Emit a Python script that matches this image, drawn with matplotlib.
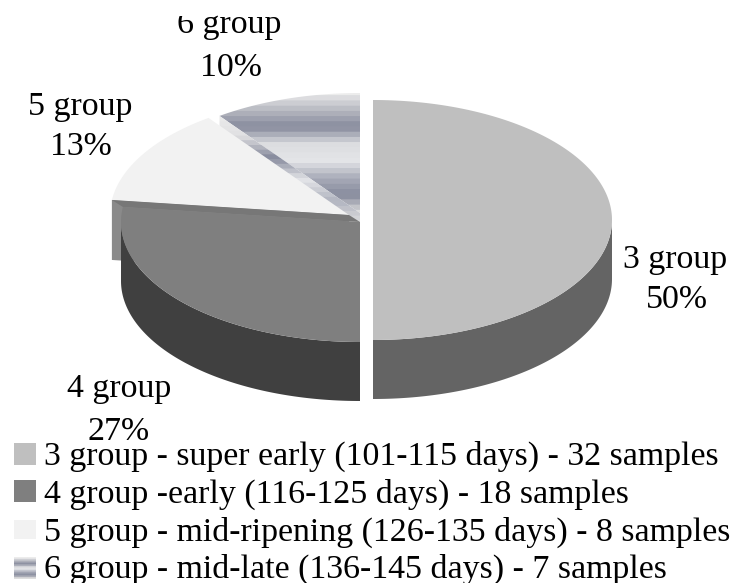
import numpy as np
from matplotlib import pyplot as plt
from matplotlib.patches import Polygon, Rectangle
from matplotlib.colors import LinearSegmentedColormap

plt.rcParams["font.family"] = ["Liberation Serif", "DejaVu Serif"]

groups = ["3 group", "4 group", "5 group", "6 group"]
percents = [50, 27, 13, 10]
legend_labels = [
    "3 group - super early (101-115 days) - 32 samples",
    "4 group -early (116-125 days) - 18 samples",
    "5 group - mid-ripening (126-135 days) - 8 samples",
    "6 group - mid-late (136-145 days) - 7 samples",
]
top_colors = ["#bfbfbf", "#7f7f7f", "#f2f2f2"]
wall_colors = ["#646464", "#404040"]

# grey-blue stripes of the last slice
stripe_colors = ["#ececec", "#b8bac2", "#868a9c", "#dcdde0", "#e4e5e8", "#a8abb8", "#868a9c", "#dedede"]
wall_stripes = ["#ececec", "#e0e0e2", "#868a9c", "#e4e5e8", "#b0b3bf", "#dedede"]
stripes = LinearSegmentedColormap.from_list("stripes", stripe_colors, N=24)
wall_map = LinearSegmentedColormap.from_list("wall", wall_stripes, N=24)

rx = 239
ry = 120
depth = 59


def arc(cx, cy, a0, a1):
    # angles in degrees, clockwise from the top of the ellipse
    t = np.radians(np.linspace(a0, a1, 200))
    return np.column_stack([cx + rx * np.sin(t), cy - ry * np.cos(t)])


def point(cx, cy, a):
    return arc(cx, cy, a, a)[0]


fig = plt.figure(figsize=(7.33, 5.83), dpi=100)
ax = fig.add_axes([0, 0, 1, 1])

edges = np.cumsum([0] + percents) * 3.6
centers = [(373, 220), (360, 222), (349, 215), (360, 213)]

# slice 6, top face and cut face with the stripes
c6 = centers[3]
top6 = np.vstack([[c6], arc(*c6, edges[3], edges[4])])
im = ax.imshow(np.linspace(0, 1, 120)[:, None], cmap=stripes, aspect="auto", extent=(200, 365, 215, 90), zorder=1)
im.set_clip_path(Polygon(top6, transform=ax.transData))
left6 = point(*c6, edges[3])
cut6 = np.array([c6, left6, left6 + [0, depth], np.array(c6) + [0, depth]])
im2 = ax.imshow(np.linspace(0, 1, 120)[:, None], cmap=wall_map, aspect="auto", extent=(200, 365, 225, 112), zorder=2)
im2.set_clip_path(Polygon(cut6, transform=ax.transData))

# slice 5
c5 = centers[2]
left5 = point(*c5, edges[2])
cut5 = np.array([c5, left5, left5 + [0, depth + 1], np.array(c5) + [0, depth + 1]])
ax.add_patch(Polygon(cut5, fc="#8a8a8a", ec="none", zorder=3))
ax.add_patch(Polygon(np.vstack([[c5], arc(*c5, edges[2], edges[3])]), fc=top_colors[2], ec="none", zorder=4))

# slice 4
c4 = centers[1]
low4 = arc(*c4, edges[1], 270)
ax.add_patch(Polygon(np.vstack([low4, (low4 + [0, depth])[::-1]]), fc=wall_colors[1], ec="none", zorder=5))
ax.add_patch(Polygon(np.array([c5, left5, point(*c4, edges[2]), c4]), fc="#777777", ec="none", zorder=5))
ax.add_patch(Polygon(np.vstack([[c4], arc(*c4, edges[1], edges[2])]), fc=top_colors[1], ec="none", zorder=6))

# slice 3
c3 = centers[0]
low3 = arc(*c3, 90, edges[1])
ax.add_patch(Polygon(np.vstack([low3, (low3 + [0, depth])[::-1]]), fc=wall_colors[0], ec="none", zorder=5))
ax.add_patch(Polygon(np.vstack([[c3], arc(*c3, edges[0], edges[1])]), fc=top_colors[0], ec="none", zorder=6))

# slice labels
fs = 24.4
name_pos = [(675.5, 268), (119, 397), (80, 115), (229, 33)]
pct_pos = [(677, 308), (119, 440), (81, 155), (231, 76)]
for name, pct, (x, y), (px, py) in zip(groups, percents, name_pos, pct_pos):
    ax.text(x, y, name, ha="center", va="baseline", fontsize=fs, zorder=8)
    ax.text(px, py, "%d%%" % pct, ha="center", va="baseline", fontsize=fs, zorder=8)
# the top of the "6" is cut away in the source image
ax.add_patch(Rectangle((170, 0), 30, 16, fc="white", ec="none", zorder=9))

# legend
baselines = [465, 503, 541, 578]
swatch_tops = [443, 480, 520, 557]
swatch_bottoms = [465, 502, 539, 579]
for i, (label, y) in enumerate(zip(legend_labels, baselines)):
    ax.text(44, y, label, ha="left", va="baseline", fontsize=fs, zorder=8)
    if i < 3:
        ax.add_patch(Rectangle((14, swatch_tops[i]), 22, swatch_bottoms[i] - swatch_tops[i], fc=top_colors[i], ec="none", zorder=8))
    else:
        ax.imshow(np.linspace(0, 1, 12)[:, None], cmap=stripes, aspect="auto", extent=(14, 36, swatch_bottoms[i], swatch_tops[i]), zorder=8)

ax.set_xlim(0, 733)
ax.set_ylim(583, 0)
ax.axis("off")
fig.savefig("out.png", dpi=100)
